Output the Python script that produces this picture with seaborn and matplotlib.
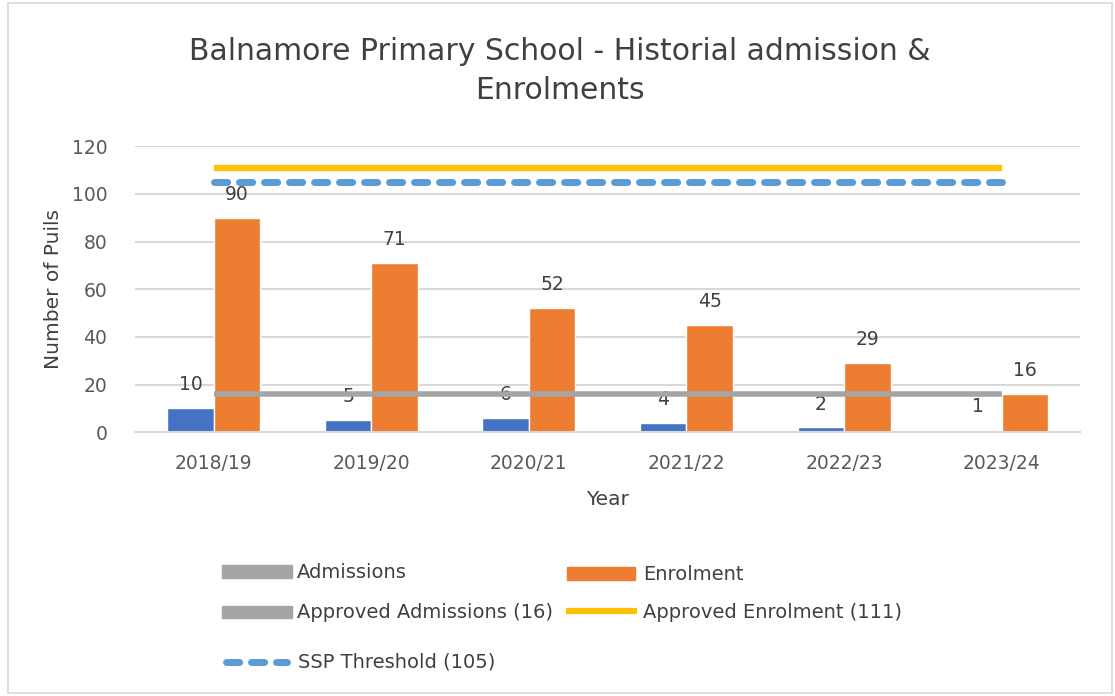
import pandas as pd
import seaborn as sns
import matplotlib.pyplot as plt
from matplotlib.patches import Rectangle
from matplotlib.lines import Line2D

# chart values
years = ['2018/19', '2019/20', '2020/21', '2021/22', '2022/23', '2023/24']
admissions = [10, 5, 6, 4, 2, 1]
enrolment = [90, 71, 52, 45, 29, 16]
approved_admissions = [16, 16, 16, 16, 16, 16]
approved_enrolment = [111, 111, 111, 111, 111, 111]
ssp_threshold = [105, 105, 105, 105, 105, 105]
y_ticks = [0, 20, 40, 60, 80, 100, 120]

blue = '#4472C4'
orange = '#ED7D31'
grey = '#A5A5A5'
yellow = '#FFC000'
ssp_blue = '#5B9BD5'
text_col = '#404040'
tick_col = '#595959'

sns.set_theme(style='white')
plt.rcParams['font.family'] = ['DejaVu Sans']

df = pd.DataFrame({
    'Year': years * 2,
    'Pupils': admissions + enrolment,
    'Series': ['Admissions'] * len(years) + ['Enrolment'] * len(years),
})

fig = plt.figure(figsize=(11.15, 6.96), dpi=100)
ax = fig.add_axes([0.121, 0.379, 0.848, 0.411])

sns.barplot(data=df, x='Year', y='Pupils', hue='Series', order=years,
            palette={'Admissions': blue, 'Enrolment': orange},
            width=0.59, gap=0, saturation=1, legend=False, ax=ax, zorder=2)

for cont in ax.containers:
    ax.bar_label(cont, padding=10, fontsize=13.5, color=text_col)

# reference lines
x = list(range(len(years)))
ax.plot(x, approved_admissions, color=grey, lw=4, zorder=3, solid_capstyle='butt')
ax.plot(x, approved_enrolment, color=yellow, lw=4.5, zorder=3, solid_capstyle='butt')
ax.plot(x, ssp_threshold, color=ssp_blue, lw=5, zorder=3,
        linestyle=(0, (1.9, 1.7)), dash_capstyle='round')

ax.set_ylim(0, 120)
ax.set_xlim(-0.5, 5.5)
ax.set_yticks(y_ticks)
ax.yaxis.grid(True, color='#d9d9d9', lw=1.5, zorder=0)
ax.set_axisbelow(True)
for s in ['top', 'right', 'left']:
    ax.spines[s].set_visible(False)
ax.spines['bottom'].set_color('#d9d9d9')
ax.spines['bottom'].set_linewidth(1.5)
ax.tick_params(axis='y', length=0, pad=20, labelsize=13.5, labelcolor=tick_col)
ax.tick_params(axis='x', length=0, pad=16, labelsize=13.5, labelcolor=tick_col)
ax.set_xlabel('Year', fontsize=14.5, color=text_col, labelpad=12)
ax.set_ylabel('Number of Puils', fontsize=14.5, color=text_col, labelpad=6)

fig.text(0.502, 0.898, 'Balnamore Primary School - Historial admission &\nEnrolments',
         ha='center', va='center', fontsize=21.5, color=text_col, linespacing=1.45)

# legend drawn by hand to keep the uneven layout
W, H = 1115, 696


def fx(px):
    return px / W


def fy(py):
    return 1 - py / H


def swatch(x0, x1, yc, h, color):
    fig.add_artist(Rectangle((fx(x0), fy(yc + h / 2)), fx(x1) - fx(x0), h / H,
                             transform=fig.transFigure, color=color))


def label(px, py, s):
    fig.text(fx(px), fy(py), s, fontsize=14, color=text_col, va='center', ha='left')


swatch(222, 292, 571, 13, grey)
label(297, 572, 'Admissions')
swatch(567, 635, 573, 13, orange)
label(643, 574, 'Enrolment')
swatch(222, 292, 612, 12, grey)
label(297, 612, 'Approved Admissions (16)')
fig.add_artist(Line2D([fx(566), fx(637)], [fy(611), fy(611)], transform=fig.transFigure,
                      color=yellow, lw=4.5, solid_capstyle='butt'))
label(643, 612, 'Approved Enrolment (111)')
fig.add_artist(Line2D([fx(226), fx(287)], [fy(662), fy(662)], transform=fig.transFigure,
                      color=ssp_blue, lw=5, linestyle=(0, (1.9, 1.7)), dash_capstyle='round'))
label(298, 662, 'SSP Threshold (105)')

# thin border round the chart
fig.add_artist(Rectangle((0.007, 0.004), 0.99, 0.992, transform=fig.transFigure,
                         fill=False, edgecolor='#d9d9d9', lw=1.2))

fig.savefig('out.png', dpi=100)
